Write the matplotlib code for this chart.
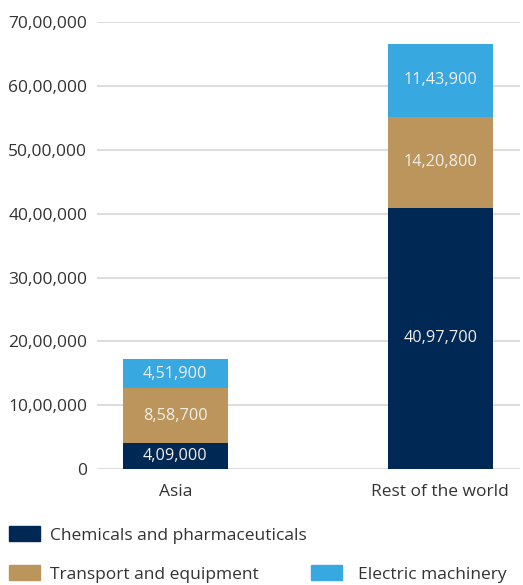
import matplotlib.pyplot as plt
from matplotlib.patches import Patch

regions = ["Asia", "Rest of the world"]
chemicals = [409000, 4097700]
transport = [858700, 1420800]
electric = [451900, 1143900]
series_names = ["Chemicals and pharmaceuticals", "Transport and equipment", "Electric machinery"]
colors = ["#002855", "#BC955C", "#38A8E0"]
yticks = [0, 1000000, 2000000, 3000000, 4000000, 5000000, 6000000, 7000000]


def indian_fmt(v):
    s = str(int(round(v)))
    if len(s) <= 3:
        return s
    head, tail = s[:-3], s[-3:]
    parts = []
    while len(head) > 2:
        parts.insert(0, head[-2:])
        head = head[:-2]
    if head:
        parts.insert(0, head)
    return ",".join(parts) + "," + tail


plt.rcParams['font.family'] = ['Open Sans', 'DejaVu Sans']

fig = plt.figure(figsize=(5.23, 5.85), dpi=100)
ax = fig.add_axes([0.1855, 0.198, 0.8085, 0.764])

x = range(len(regions))
bottom = [0, 0]
for vals, name, col in zip([chemicals, transport, electric], series_names, colors):
    bars = ax.bar(x, vals, bottom=bottom, width=0.396, color=col, label=name, zorder=3)
    for b, v, b0 in zip(bars, vals, bottom):
        ax.text(b.get_x() + b.get_width() / 2, b0 + v / 2, indian_fmt(v),
                ha="center", va="center", color="#f2efe8", fontsize=11.7, zorder=4)
    bottom = [a + v for a, v in zip(bottom, vals)]

ax.set_ylim(0, 7000000)
ax.set_xlim(-0.295, 1.30)
ax.set_yticks(yticks)
ax.set_yticklabels([indian_fmt(v) for v in yticks])
ax.set_xticks(list(x))
ax.set_xticklabels(regions)
ax.tick_params(length=0, labelsize=12.5, colors="#333333")
ax.tick_params(axis="y", pad=7)
ax.tick_params(axis="x", pad=11)
ax.grid(axis="y", color="#dddddd", linewidth=1.5, zorder=0)
for s in ax.spines.values():
    s.set_visible(False)

handles = [Patch(color=c) for c in colors]
legend_pos = [(0.017, 0.0855), (0.017, 0.019), (0.595, 0.019)]
text_pads = [0.57, 0.57, 0.9]
for h, name, pos, tp in zip(handles, series_names, legend_pos, text_pads):
    lg = fig.legend([h], [name], loc="center left", bbox_to_anchor=pos, frameon=False,
                    fontsize=12.5, handlelength=1.8, handleheight=0.92, handletextpad=tp,
                    borderpad=0, borderaxespad=0)
    for t in lg.get_texts():
        t.set_color("#333333")

fig.savefig("out.png", dpi=100)
